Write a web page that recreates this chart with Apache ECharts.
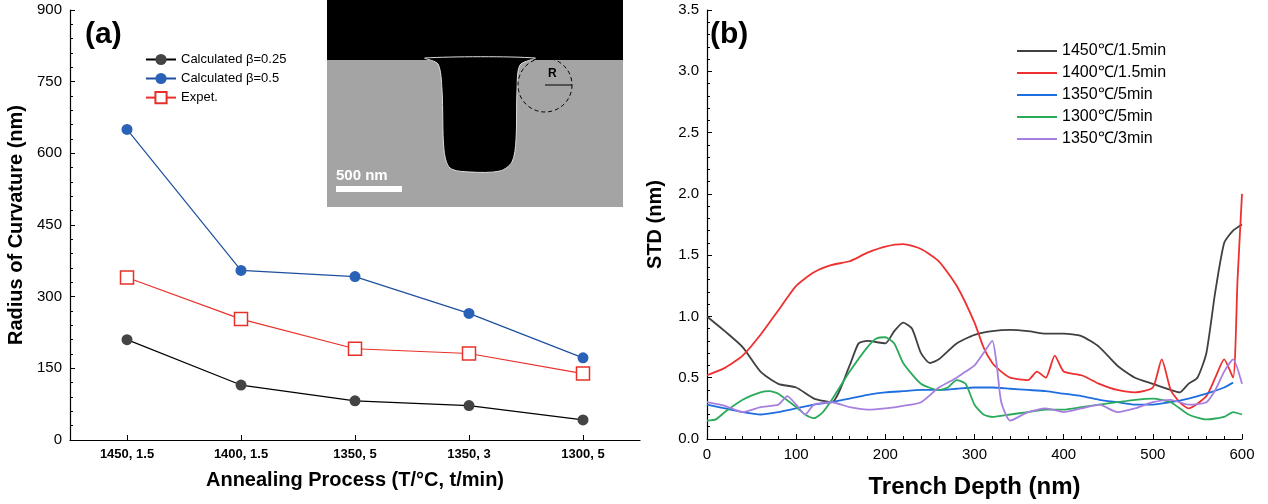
<!DOCTYPE html><html><head><meta charset="utf-8"><script src="https://cdn.jsdelivr.net/npm/echarts@6/dist/echarts.min.js"></script></head><body style="margin:0"><div id="c" style="width:1268px;height:504px"></div><script>
const cats=['1450, 1.5','1400, 1.5','1350, 5','1350, 3','1300, 5'];
const b025=[210,115,82,72,42];
const b05=[650,355,342,265,172];
const expt=[340,253,191,181,139];
const s1450=[[0,1.0],[20,0.88],[40,0.75],[60,0.55],[80,0.45],[100,0.42],[120,0.33],[140,0.3],[160,0.6],[170,0.78],[180,0.8],[200,0.78],[210,0.88],[220,0.95],[230,0.9],[240,0.7],[250,0.62],[260,0.65],[280,0.78],[300,0.85],[320,0.88],[340,0.89],[360,0.88],[380,0.86],[400,0.86],[420,0.84],[440,0.75],[460,0.6],[480,0.5],[500,0.45],[520,0.4],[530,0.38],[540,0.45],[550,0.5],[560,0.7],[570,1.2],[580,1.6],[590,1.7],[600,1.75]];
const s1400=[[0,0.52],[20,0.58],[40,0.68],[60,0.85],[80,1.05],[100,1.25],[120,1.36],[140,1.42],[160,1.45],[180,1.52],[200,1.57],[220,1.59],[240,1.55],[260,1.45],[280,1.25],[300,0.95],[310,0.75],[320,0.62],[330,0.55],[340,0.5],[360,0.48],[370,0.55],[380,0.5],[390,0.68],[400,0.55],[420,0.52],[440,0.45],[460,0.4],[480,0.38],[500,0.42],[510,0.65],[520,0.4],[530,0.3],[540,0.25],[560,0.35],[570,0.5],[580,0.65],[590,0.5],[595,1.3],[600,2.0]];
const s1350a=[[0,0.28],[20,0.25],[40,0.22],[60,0.2],[80,0.22],[100,0.25],[120,0.28],[140,0.3],[160,0.33],[180,0.36],[200,0.38],[220,0.39],[240,0.4],[260,0.4],[280,0.41],[300,0.42],[320,0.42],[340,0.41],[360,0.4],[380,0.39],[400,0.37],[420,0.35],[440,0.32],[460,0.3],[480,0.28],[500,0.28],[520,0.3],[540,0.33],[560,0.37],[580,0.42],[590,0.46]];
const s1300=[[0,0.15],[10,0.16],[20,0.22],[40,0.32],[60,0.38],[70,0.39],[80,0.37],[100,0.26],[110,0.2],[120,0.17],[130,0.22],[140,0.32],[160,0.55],[180,0.75],[190,0.82],[200,0.83],[210,0.78],[220,0.62],[240,0.45],[260,0.4],[270,0.42],[280,0.48],[290,0.45],[300,0.28],[310,0.2],[320,0.18],[340,0.2],[360,0.22],[380,0.24],[400,0.24],[420,0.26],[440,0.28],[460,0.3],[480,0.32],[500,0.33],[520,0.3],[540,0.2],[560,0.16],[580,0.18],[590,0.22],[600,0.2]];
const s1350b=[[0,0.3],[20,0.27],[40,0.22],[60,0.26],[80,0.28],[90,0.35],[100,0.28],[110,0.2],[120,0.28],[140,0.3],[160,0.26],[180,0.24],[200,0.25],[220,0.27],[240,0.3],[260,0.42],[280,0.5],[290,0.55],[300,0.6],[310,0.7],[320,0.8],[325,0.6],[330,0.3],[340,0.15],[360,0.22],[380,0.25],[400,0.22],[420,0.25],[440,0.28],[460,0.22],[480,0.25],[500,0.3],[520,0.32],[540,0.28],[560,0.3],[570,0.4],[580,0.55],[590,0.65],[600,0.45]];
const F='Arial, Liberation Sans, sans-serif';
const ax={axisLine:{show:true,lineStyle:{color:'#000',width:1.2}},axisTick:{show:true,inside:true,lineStyle:{color:'#000'}},minorTick:{show:true,length:3,lineStyle:{color:'#000'}},splitLine:{show:false},axisLabel:{color:'#000',fontFamily:F,fontSize:15}};
const nameS={color:'#000',fontFamily:F,fontSize:20,fontWeight:'bold'};
const ch=echarts.init(document.getElementById('c'));
const lineB=(n,d,c)=>({name:n,type:'line',data:d,xAxisIndex:1,yAxisIndex:1,showSymbol:false,smooth:0.2,lineStyle:{color:c,width:1.8},itemStyle:{color:c}});
ch.setOption({animation:false,
grid:[{left:70,right:628,top:10,bottom:64},{left:707,right:26,top:10,bottom:64}],
legend:[{data:['Calculated β=0.25','Calculated β=0.5','Expet.'],left:140,top:48,orient:'vertical',itemGap:6,itemWidth:30,textStyle:{fontFamily:F,fontSize:13,color:'#000'}},
{data:['1450℃/1.5min','1400℃/1.5min','1350℃/5min','1300℃/5min','1350℃/3min'],left:1012,top:38,orient:'vertical',itemGap:6,itemWidth:40,icon:'rect',itemHeight:2,textStyle:{fontFamily:F,fontSize:16,color:'#000'}}],
xAxis:[{type:'category',data:cats,gridIndex:0,boundaryGap:true,...ax,minorTick:{show:false},axisTick:{show:true,inside:true,alignWithLabel:true,lineStyle:{color:'#000'}},axisLabel:{...ax.axisLabel,fontSize:13,fontWeight:'bold'},name:'Annealing Process (T/°C, t/min)',nameLocation:'middle',nameGap:30,nameTextStyle:nameS},
{type:'value',gridIndex:1,min:0,max:600,interval:100,...ax,name:'Trench Depth (nm)',nameLocation:'middle',nameGap:36,nameTextStyle:{...nameS,fontSize:24}}],
yAxis:[{type:'value',gridIndex:0,min:0,max:900,interval:150,...ax,name:'Radius of Curvature (nm)',nameLocation:'middle',nameGap:44,nameTextStyle:nameS},
{type:'value',gridIndex:1,min:0,max:3.5,interval:0.5,...ax,axisLabel:{...ax.axisLabel,formatter:v=>v.toFixed(1)},name:'STD (nm)',nameLocation:'middle',nameGap:42,nameTextStyle:nameS}],
series:[
{name:'Calculated β=0.25',type:'line',data:b025,symbol:'circle',symbolSize:11,lineStyle:{color:'#000',width:1.2},itemStyle:{color:'#444'}},
{name:'Calculated β=0.5',type:'line',data:b05,symbol:'circle',symbolSize:11,lineStyle:{color:'#1f4ea0',width:1.2},itemStyle:{color:'#2a62b8'}},
{name:'Expet.',type:'line',data:expt,symbol:'rect',symbolSize:13,lineStyle:{color:'#e8302a',width:1.2},itemStyle:{color:'#fff',borderColor:'#e8302a',borderWidth:1.5}},
lineB('1450℃/1.5min',s1450,'#404040'),lineB('1400℃/1.5min',s1400,'#ee3030'),lineB('1350℃/5min',s1350a,'#1e6ee0'),lineB('1300℃/5min',s1300,'#2aaa5a'),lineB('1350℃/3min',s1350b,'#a77fe0')],
graphic:[
{type:'rect',shape:{x:327,y:0,width:296,height:207},style:{fill:'#a4a4a4'}},
{type:'rect',shape:{x:327,y:0,width:296,height:60},style:{fill:'#000'}},
{type:'polygon',shape:{smooth:0.3,points:[[425,58],[438,64],[442,90],[444,150],[450,168],[470,172],[500,171],[512,162],[516,140],[517,90],[520,65],[535,58]]},style:{fill:'#000',stroke:'#ddd',lineWidth:1}},
{type:'rect',shape:{x:336,y:186,width:66,height:6},style:{fill:'#fff'}},
{type:'text',x:336,y:168,style:{text:'500 nm',fill:'#fff',font:'bold 15px '+F}},
{type:'circle',shape:{cx:545,cy:85,r:27},style:{fill:'none',stroke:'#000',lineDash:[4,3],lineWidth:1}},
{type:'line',shape:{x1:545,y1:85,x2:572,y2:85},style:{stroke:'#000'}},
{type:'text',x:548,y:68,style:{text:'R',fill:'#000',font:'bold 12px '+F}},
{type:'text',x:85,y:20,style:{text:'(a)',fill:'#000',font:'bold 30px '+F}},
{type:'text',x:710,y:20,style:{text:'(b)',fill:'#000',font:'bold 30px '+F}}]
});
</script></body></html>
